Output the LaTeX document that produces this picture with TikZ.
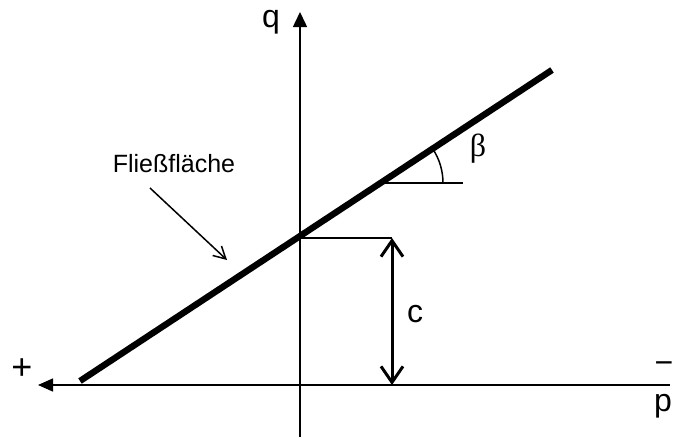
\documentclass[tikz,border=0pt]{standalone}
\usepackage{fontspec}
\setmainfont{Liberation Sans}
\newfontfamily\greekfont{Liberation Serif}
\usetikzlibrary{arrows.meta}

\begin{document}
\begin{tikzpicture}[
  x=0.5pt, y=-0.5pt,
  axis/.style={line width=0.75pt, draw=black},
  yieldline/.style={line width=3.2pt, draw=black},
  thinline/.style={line width=0.75pt, draw=black},
  lbl/.style={inner sep=0pt, font=\fontsize{12.5}{14}\selectfont},
  biglbl/.style={inner sep=0pt, font=\fontsize{16}{18}\selectfont},
  >=Stealth
]
\useasboundingbox (0,0) rectangle (673,439);

% ── Axes ──
\coordinate (qbot)   at (300,437);
\coordinate (qtop)   at (300,12);
\coordinate (pright) at (670,385);
\coordinate (pleft)  at (38,385);
\draw[axis, -{Triangle[length=7.5pt, width=7pt]}]   (qbot)   -- (qtop);
\draw[axis, -{Triangle[length=7.5pt, width=6.5pt]}] (pright) -- (pleft);

% ── Yield line ──
\coordinate (fbot) at (80,381);
\coordinate (ftop) at (552,70);
\draw[yieldline] (fbot) -- (ftop);

% ── Angle beta ──
\coordinate (bvert) at (381,183);
\coordinate (bend)  at (463,183);
\coordinate (barc)  at (443,183);
\draw[thinline] (bvert) -- (bend);
\draw[thinline] (barc) arc[start angle=0, end angle=-33.4, radius=62];
\node[inner sep=0pt, font=\greekfont\fontsize{16}{18}\selectfont] (beta) at (478,149) {β};

% ── Cohesion c ──
\coordinate (yint) at (300,238);
\coordinate (ctop) at (392,238);
\coordinate (cbot) at (392,385);
\draw[thinline] (yint) -- (ctop);
\draw[line width=1.5pt, {Straight Barb[length=8pt, width=11pt]}-{Straight Barb[length=8pt, width=11pt]}] (ctop) -- (cbot);
\node[biglbl] (c) at (415,314) {c};

% ── Axis labels ──
\node[biglbl] (q) at (271,22) {q};
\node[inner sep=0pt, font=\fontsize{18}{20}\selectfont] (plus) at (22,369) {+};
\node[biglbl] (minus) at (664,368) {−};
\node[biglbl] (p) at (663,406) {p};

% ── Surface label ──
\coordinate (fstart) at (150,188);
\coordinate (ftip)   at (227,260);
\node[lbl] (flbl) at (174,164) {Fließfläche};
\draw[thinline, -{Straight Barb[length=6pt, width=6.5pt]}] (fstart) -- (ftip);
\end{tikzpicture}
\end{document}
